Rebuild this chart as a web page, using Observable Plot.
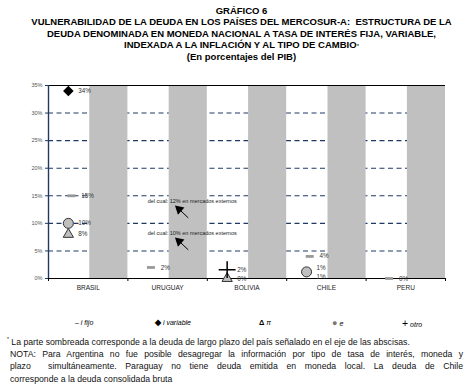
<!DOCTYPE html>
<html><head><meta charset="utf-8">
<script src="https://cdn.jsdelivr.net/npm/d3@7"></script>
<script src="https://cdn.jsdelivr.net/npm/@observablehq/plot@0.6"></script>
<style>
body{margin:0;width:469px;height:386px;position:relative;font-family:"Liberation Sans",Arial,sans-serif;background:#fff;overflow:hidden;color:#000}
#title{position:absolute;left:14px;right:0;top:5px;text-align:center;font-weight:bold;font-size:9.5px;line-height:11.4px}
#title div{height:11.4px;white-space:pre}
#title .ast{font-size:6px;font-weight:normal}
#chart{position:absolute;left:0;top:62px}
#legend{position:absolute;top:317px;left:0;width:469px;height:12px;font-size:7px;line-height:12px}
#legend span{position:absolute;white-space:nowrap}
#legend i{font-style:italic}
#notes{position:absolute;left:10px;width:453px;top:336px;font-size:8.7px;line-height:12.2px;color:#111}
#notes .j{text-align:justify;text-align-last:justify}
#notes sup{font-size:5px;margin-left:-3px;line-height:0}
</style></head><body>
<div id="title"><div>GRÁFICO 6</div><div>VULNERABILIDAD DE LA DEUDA EN LOS PAÍSES DEL MERCOSUR-A:  ESTRUCTURA DE LA</div><div>DEUDA DENOMINADA EN MONEDA NACIONAL A TASA DE INTERÉS FIJA, VARIABLE,</div><div>INDEXADA A LA INFLACIÓN Y AL TIPO DE CAMBIO<span class="ast">*</span></div><div>(En porcentajes del PIB)</div></div>
<div id="chart"></div>
<div id="legend"></div>
<div id="notes">
<div><sup>*</sup> La parte sombreada corresponde a la deuda de largo plazo del país señalado en el eje de las abscisas.</div>
<div class="j">NOTA: Para Argentina no fue posible desagregar la información por tipo de tasa de interés, moneda y</div>
<div class="j">plazo&nbsp; simultáneamente. Paraguay no tiene deuda emitida en moneda local. La deuda de Chile</div>
<div>corresponde a la deuda consolidada bruta</div>
</div>
<script>
// ---- data ----
const categories = ["BRASIL", "URUGUAY", "BOLIVIA", "CHILE", "PERU"];
const iFijo     = [15, 2, null, 4, 0];
const iVariable = [34, null, null, null, null];
const piInfl    = [8, null, 0, null, null];
const eCambio   = [10, null, null, 1.2, null];
const otro      = [null, null, 1.6, null, null];
const yTicks = [0, 5, 10, 15, 20, 25, 30, 35];
const noteCategory = "URUGUAY";
const noteTexts  = ["del cual: 12% en mercados externos", "del cual: 10% en mercados externos"];
const noteValues = [14, 8.2];
const extraLabelCategory = "CHILE";
const extraLabelValue = 0.2;
const extraLabelText = "1%";
const legendItems = [
  {sym: "–", label: "i fijo"},
  {sym: "◆", label: "i variable"},
  {sym: "Δ", label: "π"},
  {sym: "●", label: "e"},
  {sym: "+", label: "otro"}
];

// ---- build ----
const rows = vals => categories.map((c, i) => ({i, c, v: vals[i]})).filter(d => d.v != null);
const yMax = yTicks[yTicks.length - 1];
const mx = d => d.i + 0.25;
const dashSymbol = {draw(ctx) { ctx.moveTo(-4, -1.4); ctx.lineTo(4, -1.4); ctx.lineTo(4, 1.4); ctx.lineTo(-4, 1.4); ctx.closePath(); }};
const ci = categories.indexOf(extraLabelCategory);
const fmt = v => Math.round(v) + "%";
const labelsFijo = rows(iFijo).map(d => ({...d, t: fmt(d.v)}));
const labelsOther = [...rows(iVariable), ...rows(piInfl), ...rows(eCambio), ...rows(otro)]
  .map(d => ({...d, t: fmt(d.v), ly: d.v}));
// labels that crowd the extra label are lifted a little
labelsOther.forEach(d => { if (d.i === ci && Math.abs(d.v - extraLabelValue) < 1.5) d.ly = d.v + 0.8; });
labelsOther.push({i: ci, v: extraLabelValue, ly: extraLabelValue, t: extraLabelText});
const ni = categories.indexOf(noteCategory);
const notes = noteTexts.map((t, k) => ({i: ni, v: noteValues[k], t}));

const chart = Plot.plot({
  width: 469, height: 240,
  marginLeft: 48, marginRight: 24, marginTop: 23, marginBottom: 24,
  style: {fontFamily: "Liberation Sans, Arial, sans-serif", background: "transparent", overflow: "visible"},
  x: {type: "linear", domain: [0, categories.length]},
  y: {domain: [0, yMax]},
  marks: [
    Plot.ruleY(yTicks.slice(1, -1), {stroke: "#1f3864", strokeDasharray: "5,3.5", strokeWidth: 1.1}),
    Plot.rect(categories.map((c, i) => i), {x1: i => i + 0.52, x2: i => i + 1, y1: () => 0, y2: () => yMax, fill: "#c0c0c0"}),
    Plot.ruleY([yMax], {stroke: "#000", strokeWidth: 1.2}),
    Plot.ruleY([0], {stroke: "#000", strokeWidth: 1}),
    Plot.ruleX([0], {stroke: "#1f3864", strokeWidth: 1.4}),
    Plot.axisY({ticks: yTicks, tickFormat: d => d + "%", tickSize: 3, tickPadding: 3, fontSize: 5.5, fill: "#555", stroke: "#1f3864", label: null}),
    Plot.axisX({ticks: d3.range(categories.length + 1), tickFormat: () => "", tickSize: 3, stroke: "#000", label: null}),
    Plot.axisX({ticks: categories.map((c, i) => i + 0.5), tickFormat: d => categories[Math.floor(d)], tickSize: 0, tickPadding: 7, fontSize: 6.5, fill: "#222", label: null}),
    Plot.dot(rows(iFijo), {x: d => d.i + 0.29, y: "v", symbol: dashSymbol, fill: "#999", r: 4}),
    Plot.dot(rows(iVariable), {x: mx, y: "v", symbol: "square", rotate: 45, r: 4.2, fill: "#000"}),
    Plot.dot(rows(piInfl), {x: mx, y: "v", symbol: "triangle", r: 3.8, fill: "#bfbfbf", stroke: "#333", strokeWidth: 1}),
    Plot.dot(rows(eCambio), {x: mx, y: "v", r: 5, fill: "#bfbfbf", stroke: "#333", strokeWidth: 1}),
    Plot.dot(rows(otro), {x: mx, y: "v", symbol: "plus", r: 5.5, stroke: "#000", strokeWidth: 1.5}),
    Plot.text(labelsFijo, {x: mx, y: "v", text: "t", dx: 13, textAnchor: "start", fontSize: 6.3, fill: "#333"}),
    Plot.text(labelsOther, {x: mx, y: "ly", text: "t", dx: 10, textAnchor: "start", fontSize: 6.3, fill: "#333"}),
    Plot.text(notes, {x: d => d.i + 0.81, y: "v", text: "t", fontSize: 5.5, fill: "#222"}),
    Plot.link(notes, {x1: d => d.i + 0.76, y1: d => d.v - 3.0, x2: d => d.i + 0.65, y2: d => d.v - 1.5, stroke: "#000", strokeWidth: 1}),
    Plot.dot(notes, {x: d => d.i + 0.645, y: d => d.v - 1.45, symbol: "triangle", rotate: -48, r: 3.6, fill: "#000"})
  ]
});
document.getElementById("chart").appendChild(chart);

const legendX = [75, 155, 259, 332, 402];
const symSize = {"–": 7, "◆": 8, "Δ": 7.5, "●": 9, "+": 10.5};
const lg = document.getElementById("legend");
legendItems.forEach((d, k) => {
  const s = document.createElement("span");
  s.style.left = legendX[k] + "px";
  s.innerHTML = `<b style="font-size:${symSize[d.sym]}px;font-weight:${d.sym === "–" || d.sym === "+" ? "normal" : "bold"};color:${d.sym === "●" ? "#777" : "#000"}">${d.sym}</b> <i>${d.label}</i>`;
  lg.appendChild(s);
});
</script>
</body></html>
